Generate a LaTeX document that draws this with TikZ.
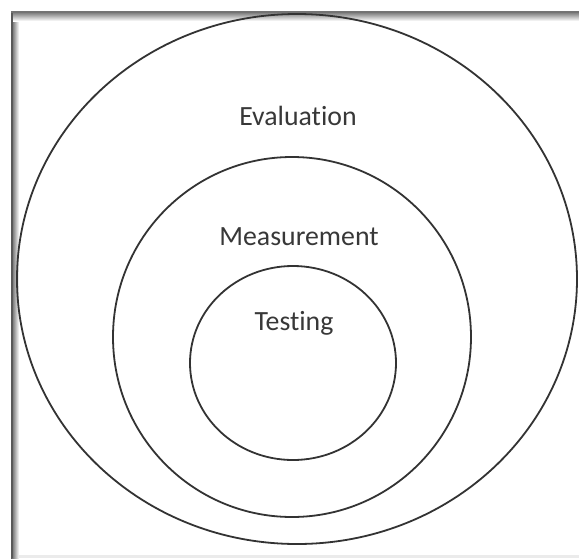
\documentclass[tikz,border=0pt]{standalone}
\usepackage{fontspec}
\setmainfont{Carlito}[Ligatures=NoCommon]
\begin{document}
\begin{tikzpicture}[x=0.5pt,y=-0.5pt,
  ring/.style={draw=black!80, line width=0.9pt},
  label/.style={font=\fontsize{13.9pt}{16pt}\selectfont, text=black!78, anchor=base, inner sep=0pt}]
  % page and frame
  \fill[white] (0,0) rectangle (579,558);
  \useasboundingbox (0,0) rectangle (579,558);
  \shade[left color=black!65, right color=white] (11,11) rectangle (19,558);
  \shade[top color=black!60, bottom color=white] (11,11) rectangle (579,21);
  \fill[black!65] (11,11) rectangle (12.5,558);
  \fill[black!55] (11,11) rectangle (579,12.5);
  \fill[black!8] (19,555) rectangle (579,558);
  % nested regions
  \draw[ring] (297,279) ellipse [x radius=280, y radius=265];
  \draw[ring] (292,337) ellipse [x radius=179, y radius=180];
  \draw[ring] (293,363) ellipse [x radius=103, y radius=97];
  % labels
  \node[label] (eval) at (298,125) {Evaluation};
  \node[label] (meas) at (299,245) {Measurement};
  \node[label] (test) at (294,330) {Testing};
\end{tikzpicture}
\end{document}
